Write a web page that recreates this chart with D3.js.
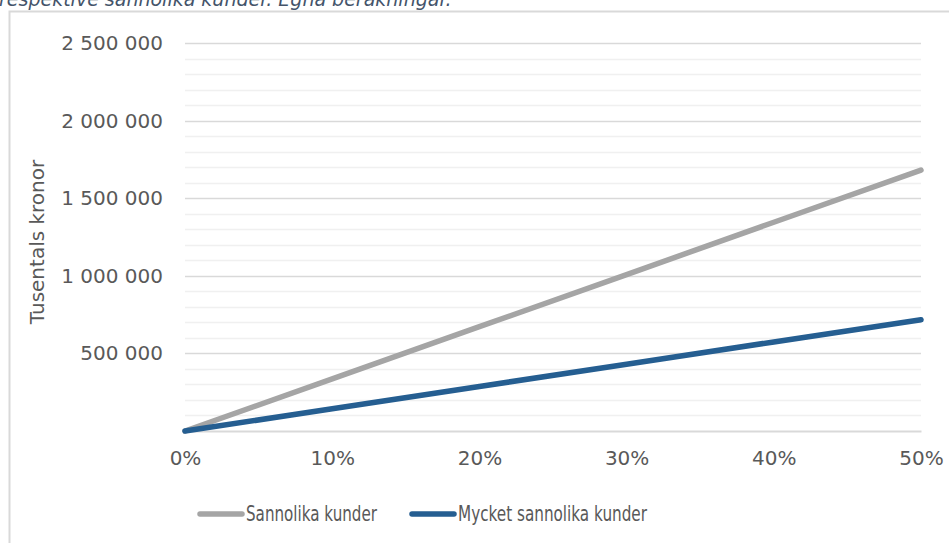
<!DOCTYPE html>
<html>
<head>
<meta charset="utf-8">
<script src="https://cdn.jsdelivr.net/npm/d3@7"></script>
<style>
  body { margin: 0; background: #fff; }
  svg { display: block; }
</style>
</head>
<body>
<div id="graph"></div>
<script>
// andel kunder (x) och värden (tusentals kronor)
var shares = [0, 0.1, 0.2, 0.3, 0.4, 0.5];
var sannolika = [0, 336000, 672000, 1008000, 1345000, 1681000];
var mycketSannolika = [0, 143000, 287000, 430000, 574000, 717000];
var seriesNames = ["Sannolika kunder", "Mycket sannolika kunder"];
var yTicks = [500000, 1000000, 1500000, 2000000, 2500000];
var yMinorTicks = d3.range(100000, 2500001, 100000);
var titleText = "respektive sannolika kunder. Egna beräkningar.";

var svgWidth = 949, svgHeight = 543;
var font = "'DejaVu Sans', sans-serif";
var textColor = "#595959";

var svg = d3.select("#graph").append("svg")
  .attr("width", svgWidth)
  .attr("height", svgHeight);

// caption text, top half is outside the picture
svg.append("text")
  .attr("x", -1)
  .attr("y", 6)
  .style("font-family", font)
  .style("font-style", "italic")
  .style("font-size", "19px")
  .attr("fill", "#44546a")
  .text(titleText);

// chart frame
svg.append("path")
  .attr("d", "M9.5," + svgHeight + " V11.5 H" + svgWidth)
  .attr("fill", "none")
  .attr("stroke", "#d9d9d9")
  .attr("stroke-width", 2);

var xScale = d3.scaleLinear().domain([0, 0.5]).range([185, 921]);
var yScale = d3.scaleLinear().domain([0, 2500000]).range([431, 43]);

// minor gridlines
svg.append("g").selectAll("line")
  .data(yMinorTicks.filter(d => yTicks.indexOf(d) < 0))
  .enter().append("line")
  .attr("x1", xScale(0)).attr("x2", xScale(0.5))
  .attr("y1", d => Math.round(yScale(d)) + 0.5)
  .attr("y2", d => Math.round(yScale(d)) + 0.5)
  .attr("stroke", "#f0f0f0")
  .attr("stroke-width", 1.5);

// major gridlines
svg.append("g").selectAll("line")
  .data(yTicks)
  .enter().append("line")
  .attr("x1", xScale(0)).attr("x2", xScale(0.5))
  .attr("y1", d => Math.round(yScale(d)) + 0.5)
  .attr("y2", d => Math.round(yScale(d)) + 0.5)
  .attr("stroke", "#d9d9d9")
  .attr("stroke-width", 1.5);

// y axis labels
var fmt = d => d3.format(",")(d).replace(/,/g, " ");
var yAxis = d3.axisLeft(yScale).tickValues(yTicks).tickFormat(fmt).tickSize(0).tickPadding(22);
var yG = svg.append("g").attr("transform", "translate(185,0)").call(yAxis);
yG.select(".domain").remove();
yG.selectAll("text")
  .style("font-family", font)
  .style("font-size", "20px")
  .attr("fill", textColor);

// x axis
var xAxis = d3.axisBottom(xScale).tickValues(shares).tickFormat(d3.format(".0%")).tickSize(0).tickPadding(20);
var xG = svg.append("g").attr("transform", "translate(0,431)").call(xAxis);
xG.select(".domain")
  .attr("stroke", "#d9d9d9")
  .attr("stroke-width", 2);
xG.selectAll("text")
  .style("font-family", font)
  .style("font-size", "20px")
  .attr("fill", textColor);

// y axis title
svg.append("text")
  .attr("transform", "translate(37,242) rotate(-90)")
  .attr("text-anchor", "middle")
  .attr("dy", "0.35em")
  .style("font-family", font)
  .style("font-size", "20px")
  .attr("fill", textColor)
  .text("Tusentals kronor");

// lines
var seriesData = [
  { name: seriesNames[0], values: sannolika, color: "#a5a5a5", textW: 131 },
  { name: seriesNames[1], values: mycketSannolika, color: "#255e91", textW: 189 }
];

var line = d3.line()
  .x((d, i) => xScale(shares[i]))
  .y(d => yScale(d));

svg.append("g").selectAll("path")
  .data(seriesData)
  .enter().append("path")
  .attr("d", d => line(d.values))
  .attr("fill", "none")
  .attr("stroke", d => d.color)
  .attr("stroke-width", 5.5)
  .attr("stroke-linecap", "round")
  .attr("stroke-linejoin", "round");

// legend (text is narrow in the original)
var legendX = [200, 412];
var legend = svg.append("g").selectAll("g")
  .data(seriesData)
  .enter().append("g")
  .attr("transform", (d, i) => "translate(" + legendX[i] + ",514)");

legend.append("line")
  .attr("x1", 0).attr("x2", 42)
  .attr("stroke", d => d.color)
  .attr("stroke-width", 5.5)
  .attr("stroke-linecap", "round");

legend.append("text")
  .attr("x", 46)
  .attr("dy", "0.35em")
  .attr("textLength", d => d.textW)
  .attr("lengthAdjust", "spacingAndGlyphs")
  .style("font-family", font)
  .style("font-size", "21px")
  .attr("fill", textColor)
  .text(d => d.name);
</script>
</body>
</html>
